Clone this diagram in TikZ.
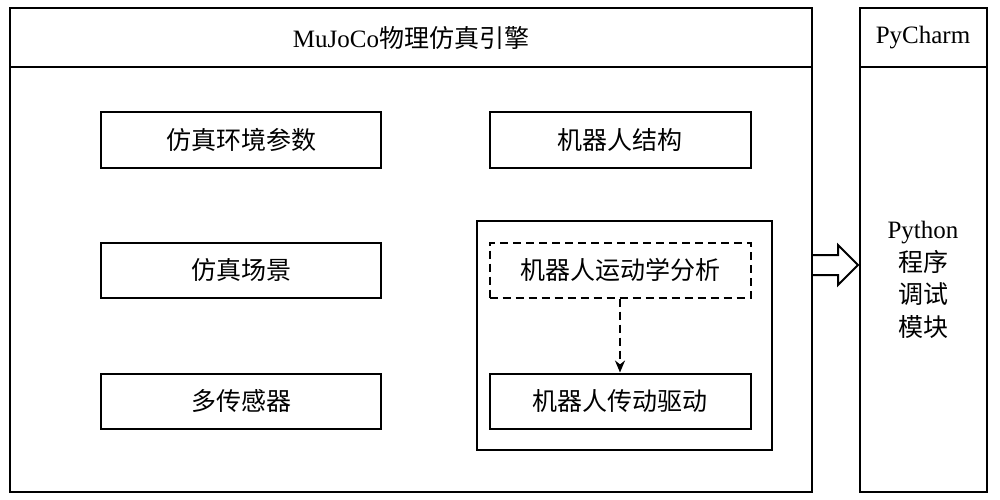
\documentclass[tikz,border=0pt]{standalone}
\usepackage{fontspec}
\setmainfont{Liberation Serif}
\newfontfamily\cjk{Noto Sans CJK SC}
\usetikzlibrary{arrows.meta}
\begin{document}
\begin{tikzpicture}[x=1pt,y=-1pt,line width=2pt,
  bx/.style={draw,minimum width=280pt,minimum height=55pt,font=\cjk\fontsize{25}{29}\selectfont,inner sep=0pt},
  lbl/.style={font=\fontsize{25}{29}\selectfont}]
\useasboundingbox (0,0) rectangle (1000,500);
\draw (10,8) rectangle (812,492);
\draw (10,67) -- (812,67);
\node[lbl] (t1) at (411,38) {MuJoCo{\cjk 物理仿真引擎}};
\draw (860,8) rectangle (987,492);
\draw (860,67) -- (987,67);
\node[lbl] (t2) at (923,38) {PyCharm};
\node[lbl,align=center,font=\fontsize{25}{32.5}\selectfont] (py) at (923,280) {Python\\{\cjk 程序}\\{\cjk 调试}\\{\cjk 模块}};
\node[bx] (a) at (241,140) {仿真环境参数};
\node[bx] (b) at (241,270) {仿真场景};
\node[bx] (c) at (241,401) {多传感器};
\node[bx,minimum width=261pt] (d) at (620,140) {机器人结构};
\draw (477,221) rectangle (772,450);
\node[bx,minimum width=261pt,dashed,dash pattern=on 8pt off 5pt] (e) at (620,270) {机器人运动学分析};
\node[bx,minimum width=261pt] (f) at (620,401) {机器人传动驱动};
\draw[dashed,dash pattern=on 8pt off 5pt,-{Stealth[length=12pt,width=10pt]}] (e) -- (f);
\draw (812,255) -- (838,255) -- (838,245) -- (858,265) -- (838,285) -- (838,275) -- (812,275);
\end{tikzpicture}
\end{document}
